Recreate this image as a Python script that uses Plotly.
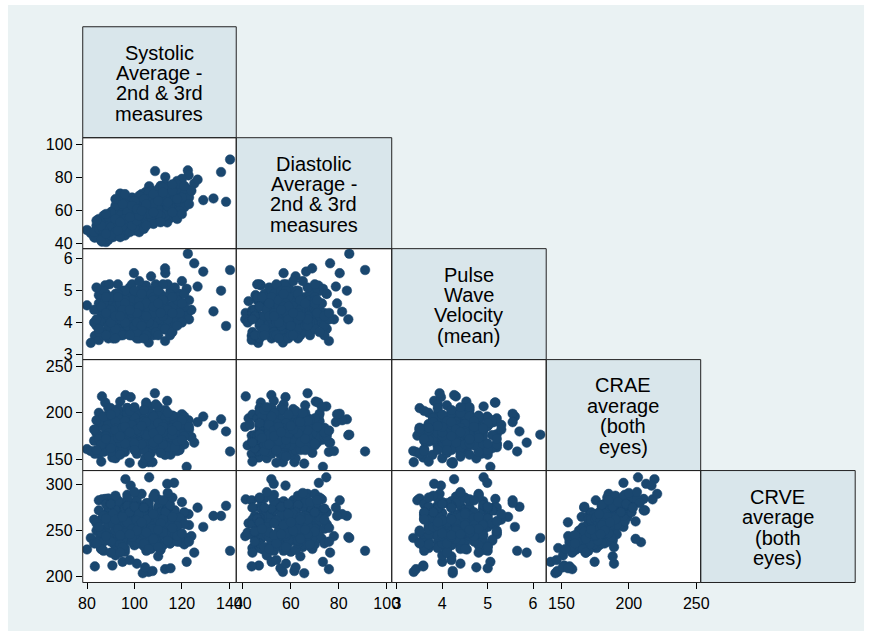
import plotly.graph_objects as go

# ---------------- data ----------------
sbp = [140.3, 136.5, 138.6, 133.3, 129.0, 125.2, 122.5, 122.0, 112.9, 126.6, 122.8, 113.0, 108.7, 80.0, 85.0, 87.7,
       106.0, 112.9, 89.0, 86.3, 96.2, 106.2, 116.7, 113.8, 98.4, 108.6, 94.0, 104.9, 103.5, 107.6, 90.7, 83.3,
       81.6, 85.0, 89.0, 104.5, 115.2, 118.0, 120.0, 88.0, 99.8, 107.0, 89.5, 112.9, 109.0, 97.0, 95.0, 101.0,
       110.0, 92.0, 86.0, 98.0,
       84, 86, 87, 88, 89, 90, 90, 91, 92, 92, 93, 93, 94, 94, 95, 95, 96, 96, 97, 97,
       98, 98, 99, 99, 100, 100, 101, 101, 102, 102, 103, 103, 104, 104, 105, 105, 106, 106, 107, 107,
       108, 108, 109, 109, 110, 110, 111, 111, 112, 112, 113, 114, 114, 115, 116, 116, 117, 118, 119, 120,
       85, 87, 88, 89, 91, 92, 93, 94, 95, 96, 97, 98, 99, 100, 101, 102, 103, 104, 105, 106,
       107, 108, 109, 110, 111, 112, 113, 114, 115, 117, 118, 119, 120, 121, 123, 124, 86, 90, 94, 100,
       98, 102, 96, 104, 93, 108, 100, 97, 105, 110, 91, 99, 103, 95, 101, 106, 89, 113, 107, 92,
       83, 85, 87, 89, 91, 93, 95, 97, 99, 101, 103, 105, 107, 109, 111, 113, 115, 117, 119, 121,
       84, 86, 88, 90, 92, 94, 96, 98, 100, 102, 104, 106, 108, 110, 112, 114, 116, 118, 83, 85,
       87, 89, 91, 93, 95, 97, 99, 101, 103, 105, 107, 109, 111, 113, 115, 117, 119, 121, 123, 90,
       92, 94, 96, 98, 100, 102, 104, 106, 108, 110, 112, 114, 116, 118, 120, 86, 88, 90, 92, 94,
       96, 98, 100, 102, 104, 106, 108, 110, 112, 114, 116, 118, 84, 88, 92, 96, 100, 104, 108, 112,
       116, 120, 97, 99, 101, 103, 105, 95, 93, 111, 99, 102, 105, 96, 108, 101, 94, 110, 103, 98]

dbp = [91.0, 83.4, 65.4, 67.4, 66.4, 76.4, 84.4, 73.4, 68.9, 78.8, 81.4, 80.4, 84.0, 48.3, 45.3, 47.5,
       56.7, 75.9, 42.4, 41.2, 51.9, 74.8, 71.7, 52.9, 57.8, 67.0, 70.4, 71.5, 65.6, 61.5, 46.7, 43.7,
       46.4, 43.7, 47.0, 62.0, 55.7, 78.0, 79.3, 41.0, 57.0, 62.0, 47.0, 60.0, 57.0, 56.0, 52.0, 58.0,
       64.0, 50.0, 44.0, 54.0,
       49, 47, 52, 50, 53, 48, 55, 51, 54, 49, 57, 52, 55, 59, 53, 57, 50, 60, 55, 58,
       52, 61, 56, 59, 54, 62, 57, 60, 55, 63, 58, 61, 56, 64, 59, 62, 57, 65, 60, 63,
       58, 66, 61, 64, 59, 67, 62, 65, 60, 68, 63, 66, 61, 69, 64, 70, 66, 63, 68, 71,
       55, 45, 56, 44, 58, 46, 61, 48, 62, 47, 63, 49, 64, 51, 66, 50, 67, 52, 68, 53,
       69, 54, 70, 55, 71, 56, 72, 57, 60, 74, 60, 73, 65, 70, 68, 72, 50, 52, 51, 58,
       57, 59, 54, 60, 56, 62, 60, 53, 56, 62, 54, 61, 55, 59, 63, 60, 50, 67, 65, 57,
       44, 53, 57, 43, 60, 46, 66, 49, 68, 52, 70, 53, 72, 55, 75, 57, 74, 59, 64, 62,
       51, 42, 54, 50, 47, 65, 52, 66, 48, 69, 54, 71, 56, 73, 58, 74, 61, 76, 47, 49,
       48, 56, 44, 53, 49, 61, 54, 65, 50, 66, 56, 68, 57, 70, 63, 67, 60, 75, 64, 45,
       63, 57, 45, 62, 56, 47, 63, 58, 52, 61, 66, 63, 72, 55, 68, 51, 46, 59, 55, 44,
       64, 47, 66, 61, 49, 67, 70, 58, 74, 65, 59, 67, 54, 58, 67, 70, 50, 67, 64, 71,
       76, 58, 59, 51, 54, 57, 51, 64, 48, 53, 63, 57, 64, 55, 59, 61, 53, 66, 60, 56]

pwv = [5.65, 5.00, 3.89, 4.35, 5.60, 5.86, 6.16, 5.06, 5.70, 5.13, 4.34, 5.55, 4.10, 4.54, 4.86, 5.17,
       3.37, 3.42, 4.67, 4.30, 4.26, 4.91, 4.99, 3.82, 3.97, 3.94, 4.53, 5.16, 4.23, 4.23, 3.58, 3.58,
       3.36, 3.45, 3.50, 4.75, 5.00, 4.10, 4.60, 4.10, 5.55, 5.45, 5.20, 3.78, 3.90, 4.50, 4.00, 4.40,
       4.20, 4.00, 3.70, 4.20,
       3.9, 4.2, 3.7, 4.4, 4.0, 3.8, 4.3, 4.6, 3.6, 4.1, 4.5, 3.9, 4.2, 4.8, 4.0, 3.7, 4.4, 4.1, 4.6, 3.8,
       4.3, 4.0, 4.7, 3.9, 4.2, 4.5, 3.8, 4.9, 4.1, 4.4, 4.0, 4.6, 4.3, 3.7, 4.8, 4.2, 4.5, 3.9, 4.4, 5.0,
       4.1, 4.6, 4.3, 3.8, 4.7, 4.2, 4.9, 4.4, 4.0, 4.6, 4.3, 4.8, 4.1, 4.5, 4.2, 5.0, 4.7, 4.4, 4.9, 4.6,
       4.6, 3.6, 4.9, 4.2, 3.5, 4.7, 4.4, 3.6, 5.0, 3.9, 4.2, 4.9, 3.6, 4.6, 4.3, 3.7, 5.1, 4.0, 3.6, 4.9,
       4.1, 4.4, 5.2, 3.9, 4.5, 4.8, 4.0, 5.2, 3.8, 4.3, 4.8, 4.0, 5.3, 4.2, 4.7, 4.4, 4.1, 4.5, 4.3, 4.1,
       5.1, 3.5, 4.5, 4.7, 3.8, 3.6, 4.0, 4.8, 4.3, 4.1, 4.0, 4.6, 4.5, 4.3, 4.2, 3.7, 4.7, 4.5, 4.6, 4.9,
       4.4, 3.7, 5.0, 4.1, 3.6, 5.2, 4.3, 3.9, 4.7, 3.5, 4.8, 3.6, 4.2, 5.1, 3.8, 4.6, 3.6, 5.1, 4.2, 4.5,
       5.1, 4.0, 3.6, 4.8, 4.5, 3.7, 5.0, 4.4, 3.8, 4.0, 5.0, 4.3, 3.9, 4.6, 5.2, 3.9, 4.5, 4.1, 4.0, 3.8,
       4.6, 3.9, 4.3, 4.9, 3.6, 4.2, 5.2, 3.7, 4.5, 4.1, 4.9, 3.7, 4.4, 3.8, 4.9, 4.0, 4.3, 4.9, 4.1, 4.4,
       3.8, 4.6, 4.2, 3.6, 5.0, 4.7, 3.5, 4.4, 4.8, 3.6, 4.5, 4.1, 3.7, 4.7, 4.0, 4.5, 4.8, 4.0, 3.5, 4.1,
       4.7, 4.5, 3.9, 5.3, 4.2, 4.0, 4.7, 5.0, 4.2, 4.4, 4.8, 3.9, 4.1, 4.3, 4.2, 4.6, 4.4, 4.1, 4.3, 4.7,
       4.3, 4.6, 4.1, 4.2, 4.0, 4.9, 4.6, 4.4, 4.8, 4.3, 4.3, 4.5, 4.2, 4.0, 4.5, 4.3, 4.2, 4.6, 3.9, 4.4]

crae = [158.5, 193, 180, 186.5, 196, 168, 176.5, 142, 180, 190, 192, 199, 176, 161, 156, 211,
        147, 158, 194, 217.6, 219, 206.8, 196, 212.8, 216.8, 221, 212, 211, 145.5, 147, 152, 156,
        159, 175.5, 205, 151, 155, 159, 198.5, 185, 190, 165, 166.9, 154.8, 209, 205, 174.6, 189,
        188, 151.2, 147.6, 146.4,
        178, 186, 170, 192, 165, 183, 175, 197, 161, 180, 188, 172, 200, 168, 184, 176, 193, 158, 181, 189,
        174, 196, 166, 185, 178, 190, 170, 183, 162, 198, 180, 173, 187, 169, 192, 177, 185, 164, 179, 195,
        172, 186, 167, 182, 190, 175, 160, 184, 178, 193, 170, 181, 188, 165, 176, 186, 172, 183, 169, 179,
        190, 175, 168, 198, 182, 171, 204, 160, 186, 176, 195, 165, 182, 171, 200, 187, 163, 194, 175, 181,
        157, 189, 177, 199, 168, 174, 191, 163, 185, 178, 195, 171, 187, 166, 182, 174, 160, 205, 170, 180,
        176, 184, 188, 172, 193, 181, 165, 197, 184, 186, 189, 174, 169, 179, 191, 187, 177, 192, 171, 183,
        170, 200, 158, 187, 176, 194, 163, 205, 181, 156, 185, 170, 199, 162, 178, 203, 174, 190, 160, 196,
        192, 165, 182, 158, 201, 174, 186, 169, 195, 178, 160, 190, 174, 206, 166, 184, 197, 168, 182, 172,
        196, 178, 170, 185, 159, 199, 172, 188, 166, 208, 183, 171, 157, 194, 180, 163, 187, 175, 185, 162,
        190, 155, 176, 202, 167, 189, 180, 153, 196, 172, 188, 177, 184, 170, 192, 166, 175, 198, 183, 168,
        191, 177, 160, 182, 203, 175, 165, 189, 179, 200, 176, 186, 160, 172, 181, 167, 206, 191, 168, 185,
        181, 171, 182, 187, 179, 183, 176, 184, 173, 181, 178, 180, 190, 185, 178, 182, 175, 172, 186, 179]

crve = [228, 266, 277, 266, 254, 226, 242, 216, 276, 275, 268, 283, 243, 229.5, 240, 284.5,
        205, 208, 258, 284, 306, 308, 302, 301, 299, 290, 272, 272, 203.6, 206, 212, 211,
        242, 283, 285, 210, 209, 244, 266, 244, 280, 265, 275, 259, 237.4, 241, 216, 214,
        222, 223, 231, 218,
        250, 262, 238, 268, 240, 246, 259, 270, 233, 255, 249, 244, 280, 236, 262, 252, 265, 227, 247, 272,
        240, 263, 245, 258, 234, 271, 251, 244, 236, 277, 261, 242, 250, 255, 266, 239, 273, 232, 256, 262,
        247, 268, 243, 252, 257, 238, 229, 264, 245, 275, 249, 260, 241, 236, 255, 263, 244, 250, 238, 259,
        248, 266, 252, 275, 237, 258, 283, 242, 254, 231, 280, 251, 243, 262, 287, 246, 239, 269, 233, 275,
        230, 258, 248, 276, 253, 234, 261, 246, 270, 252, 260, 241, 262, 235, 256, 244, 230, 260, 266, 252,
        257, 248, 239, 270, 256, 263, 250, 289, 245, 249, 261, 255, 247, 240, 282, 251, 257, 258, 259, 273,
        262, 272, 228, 246, 268, 260, 250, 285, 238, 237, 290, 228, 265, 240, 270, 282, 236, 272, 241, 270,
        258, 248, 279, 226, 286, 235, 274, 253, 264, 241, 233, 280, 267, 284, 250, 274, 260, 238, 236, 254,
        266, 243, 257, 282, 232, 277, 260, 276, 254, 280, 246, 235, 232, 270, 278, 246, 264, 257, 238, 238,
        288, 244, 249, 270, 276, 264, 236, 230, 287, 262, 248, 239, 286, 244, 281, 230, 263, 279, 250, 226,
        256, 259, 245, 268, 275, 244, 252, 232, 262, 291, 265, 255, 236, 244, 262, 249, 292, 246, 241, 283,
        253, 247, 259, 243, 261, 256, 248, 265, 252, 258, 252, 256, 262, 247, 268, 250, 245, 251, 259, 246]

var_labels = [
    ["Systolic", "Average -", "2nd & 3rd", "measures"],
    ["Diastolic", "Average -", "2nd & 3rd", "measures"],
    ["Pulse", "Wave", "Velocity", "(mean)"],
    ["CRAE", "average", "(both", "eyes)"],
    ["CRVE", "average", "(both", "eyes)"],
]
axis_ticks = [[80, 100, 120, 140], [40, 60, 80, 100], [3, 4, 5, 6], [150, 200, 250], [200, 250, 300]]
axis_ranges = [[78.2, 142.9], [37.25, 102.1], [2.885, 6.29], [138.7, 253.3], [193.5, 315.4]]
y_ranges = [None, [37.0, 104.2], [2.835, 6.32], [138.0, 257.1], [193.5, 315.4]]

# ---------------- layout geometry ----------------
W, H = 876, 638
XE = [79, 235, 393, 550, 707, 864]
YE = [25, 137, 249, 361, 473, 586]
BG = "#eaf2f3"
BOX = "#d9e6eb"
NAVY = "#1a476f"
FONT = "Liberation Sans, Arial, Helvetica, sans-serif"


def fx(x):
    return x / W


def fy(y):
    return 1 - y / H


series = [sbp, dbp, pwv, crae, crve]
fig = go.Figure()
lay = {}
shapes = [dict(type="rect", xref="paper", yref="paper", x0=fx(3), x1=fx(873), y0=fy(635), y1=fy(3),
               fillcolor=BG, line=dict(width=0), layer="below")]
n = 0
for i in range(1, 5):
    for j in range(i):
        n += 1
        xs = "x" if n == 1 else f"x{n}"
        ys = "y" if n == 1 else f"y{n}"
        xa = "xaxis" if n == 1 else f"xaxis{n}"
        ya = "yaxis" if n == 1 else f"yaxis{n}"
        fig.add_trace(go.Scatter(x=series[j], y=series[i], mode="markers", xaxis=xs, yaxis=ys,
                                 marker=dict(size=9.6, color=NAVY, line=dict(width=0.5, color=NAVY)),
                                 showlegend=False, hoverinfo="skip"))
        bottom = (i == 4)
        left = (j == 0)
        lay[xa] = dict(domain=[fx(XE[j]), fx(XE[j + 1])], range=axis_ranges[j], anchor=ys,
                       showgrid=False, zeroline=False, showline=False,
                       tickmode="array", tickvals=axis_ticks[j] if bottom else [],
                       ticks="outside" if bottom else "", ticklen=6, tickwidth=1, tickcolor="#000",
                       showticklabels=bottom, tickfont=dict(family=FONT, size=16, color="#000"))
        lay[ya] = dict(domain=[fy(YE[i + 1]), fy(YE[i])], range=y_ranges[i], anchor=xs,
                       showgrid=False, zeroline=False, showline=False,
                       tickmode="array", tickvals=axis_ticks[i] if left else [],
                       ticks="outside" if left else "", ticklen=6, tickwidth=1, tickcolor="#000",
                       showticklabels=left, tickfont=dict(family=FONT, size=16, color="#000"))
        shapes.append(dict(type="rect", xref="paper", yref="paper",
                           x0=fx(XE[j]), x1=fx(XE[j + 1]), y0=fy(YE[i + 1]), y1=fy(YE[i]),
                           fillcolor="white", line=dict(width=0), layer="below"))
        shapes.append(dict(type="rect", xref="paper", yref="paper",
                           x0=fx(XE[j]), x1=fx(XE[j + 1]), y0=fy(YE[i + 1]), y1=fy(YE[i]),
                           fillcolor="rgba(0,0,0,0)", line=dict(width=1, color="#222"), layer="above"))

annotations = []
for k in range(5):
    shapes.append(dict(type="rect", xref="paper", yref="paper",
                       x0=fx(XE[k]), x1=fx(XE[k + 1]), y0=fy(YE[k + 1]), y1=fy(YE[k]),
                       fillcolor=BOX, line=dict(width=1, color="#222"), layer="below"))
    cx = (XE[k] + XE[k + 1]) / 2
    cy = (YE[k] + YE[k + 1]) / 2 + 1
    for li, txt in enumerate(var_labels[k]):
        yy = cy + (li - 1.5) * 20.6
        annotations.append(dict(text=txt, xref="paper", yref="paper", x=fx(cx), y=fy(yy),
                                xanchor="center", yanchor="middle", showarrow=False,
                                font=dict(family=FONT, size=20, color="#000")))

fig.update_layout(width=W, height=H, margin=dict(l=0, r=0, t=0, b=0),
                  paper_bgcolor="white", plot_bgcolor="rgba(0,0,0,0)",
                  shapes=shapes, annotations=annotations, **lay)
fig.write_html("out.html",
               post_script="document.body.style.margin='0';document.body.style.overflow='hidden';")
